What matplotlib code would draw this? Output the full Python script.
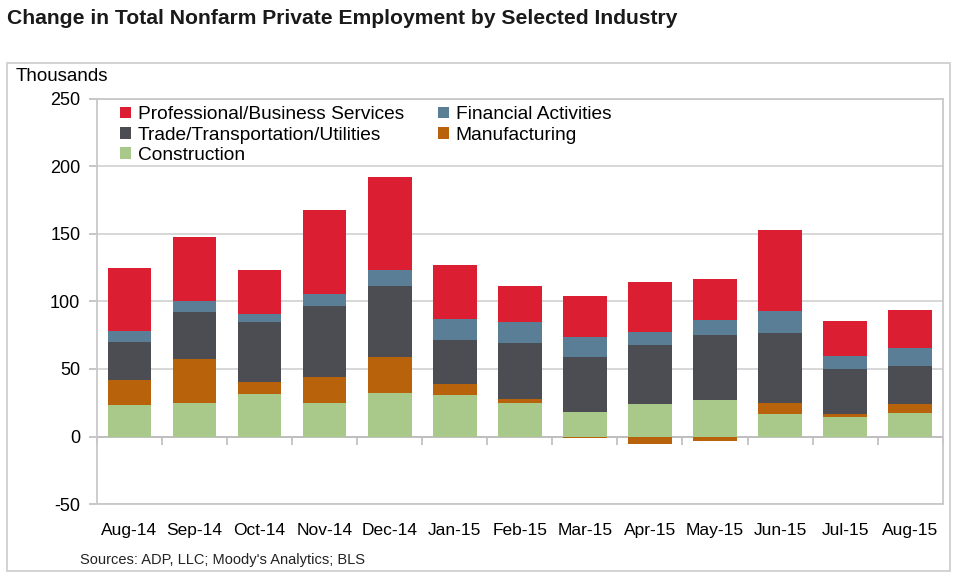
import numpy as np
import matplotlib
matplotlib.use("Agg")
import matplotlib.pyplot as plt
from matplotlib.patches import Rectangle

plt.rcParams['font.family'] = ['Liberation Sans', 'DejaVu Sans']
plt.rcParams['axes.unicode_minus'] = False

months = ['Aug-14', 'Sep-14', 'Oct-14', 'Nov-14', 'Dec-14', 'Jan-15', 'Feb-15',
          'Mar-15', 'Apr-15', 'May-15', 'Jun-15', 'Jul-15', 'Aug-15']

# thousands
construction = [23.4, 25.1, 31.3, 24.6, 32.5, 30.8, 24.6, 18.5, 24.4, 26.8, 16.3, 14.8, 17.2]
manufacturing = [18.5, 32.6, 9.1, 19.8, 26.7, 8.4, 3.2, -1.0, -5.5, -3.0, 8.3, 1.5, 6.5]
trade = [27.8, 34.5, 44.1, 52.2, 52.0, 32.0, 41.2, 40.7, 43.1, 48.4, 52.0, 34.0, 28.5]
financial = [8.7, 8.1, 6.2, 8.9, 11.8, 15.6, 15.5, 14.2, 9.6, 11.1, 16.3, 9.3, 13.1]
professional = [46.1, 47.4, 32.3, 62.4, 69.0, 39.9, 27.2, 30.9, 37.5, 30.6, 60.2, 25.7, 28.3]

series = [
    ('Construction', construction, '#a9c98a'),
    ('Manufacturing', manufacturing, '#b8620c'),
    ('Trade/Transportation/Utilities', trade, '#4b4d52'),
    ('Financial Activities', financial, '#5a7e96'),
    ('Professional/Business Services', professional, '#dc1e32'),
]

fig = plt.figure(figsize=(9.6, 5.82), dpi=100)

# outer frame
fig.patches.append(Rectangle((0.007, 0.0194), 0.9826, 0.8726, transform=fig.transFigure,
                             fill=False, edgecolor='#cfcfcf', linewidth=1.3))

fig.text(0.007, 0.969, 'Change in Total Nonfarm Private Employment by Selected Industry',
         fontsize=15.2, fontweight='bold', color='#1a1a1a', va='center', ha='left')
fig.text(0.016, 0.868, 'Thousands', fontsize=13.5, va='center', ha='left')
fig.text(0.083, 0.037, "Sources: ADP, LLC; Moody's Analytics; BLS", fontsize=10.5,
         va='center', ha='left', color='#222222')

ax = fig.add_axes([0.101, 0.134, 0.881, 0.696])

x = np.arange(len(months))
pos_bottom = np.zeros(len(months))
neg_bottom = np.zeros(len(months))
handles = {}
for name, vals, color in series:
    v = np.array(vals)
    bottom = np.where(v >= 0, pos_bottom, neg_bottom)
    b = ax.bar(x, v, 0.67, bottom=bottom, color=color, label=name, zorder=3)
    handles[name] = b
    pos_bottom = pos_bottom + np.where(v >= 0, v, 0)
    neg_bottom = neg_bottom + np.where(v < 0, v, 0)

ax.set_xlim(-0.5, len(months) - 0.5)
ax.set_ylim(-50, 250)
ax.set_yticks(np.arange(-50, 251, 50))
ax.yaxis.grid(True, color='#d4d4d4', linewidth=1.3, zorder=0)
ax.set_axisbelow(True)
ax.axhline(0, color='#bdbdbd', linewidth=1.3, zorder=2)

ax.set_xticks(x)
ax.set_xticklabels(months)
ax.tick_params(axis='x', length=0, pad=14, labelsize=12.5)
ax.tick_params(axis='y', length=6, color='#bdbdbd', width=1.2, pad=6, labelsize=13)
for s in ax.spines.values():
    s.set_color('#c8c8c8')
    s.set_linewidth(1.3)

# small category separators below the zero line
zero_frac = (0 - ax.get_ylim()[0]) / (ax.get_ylim()[1] - ax.get_ylim()[0])
sec = ax.secondary_xaxis(zero_frac)
sec.set_xticks(np.arange(-0.5, len(months), 1.0))
sec.set_xticklabels([])
sec.tick_params(length=6, color='#bdbdbd', width=1.2)
sec.spines['bottom'].set_visible(False)

order = ['Professional/Business Services', 'Trade/Transportation/Utilities', 'Construction',
         'Financial Activities', 'Manufacturing']
leg = ax.legend([handles[n] for n in order], order, ncol=2, loc='upper left',
                bbox_to_anchor=(0.014, 1.01), frameon=False, fontsize=13.8,
                handlelength=0.55, handleheight=0.55, handletextpad=0.35,
                labelspacing=0.17, columnspacing=1.8, borderaxespad=0.2)

fig.savefig('out.png', dpi=100)
